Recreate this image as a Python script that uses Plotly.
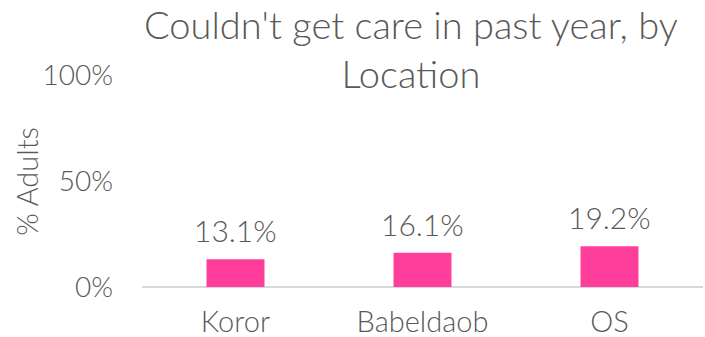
import plotly.graph_objects as go

locations = ["Koror", "Babeldaob", "OS"]
pct_couldnt_get_care = [13.1, 16.1, 19.2]
y_ticks = [0, 50, 100]
y_tick_labels = ["0%", "50%", "100%"]

GRAY = "#595959"
FONT = "Lato"
W = 300

fig = go.Figure(
    go.Bar(
        x=locations,
        y=pct_couldnt_get_care,
        marker=dict(color="#ff3d9a", line=dict(width=0)),
        width=0.31,
        hoverinfo="skip",
    )
)

for loc, v in zip(locations, pct_couldnt_get_care):
    fig.add_annotation(
        x=loc, y=v, text=f"{v:.1f}%", showarrow=False,
        yanchor="bottom", yshift=9,
        font=dict(family=FONT, size=30, color=GRAY, weight=W),
    )

# Chart title, centred over the plotting area
fig.add_annotation(
    text="Couldn't get care in past year, by<br>Location",
    xref="paper", yref="paper", x=0.48, y=1.125,
    xanchor="center", yanchor="middle", showarrow=False,
    font=dict(family=FONT, size=38, color=GRAY, weight=W),
)

# Vertical axis title
fig.add_annotation(
    text="% Adults", textangle=-90,
    xref="paper", yref="paper", x=-0.207, y=0.5,
    xanchor="center", yanchor="middle", showarrow=False,
    font=dict(family=FONT, size=29, color=GRAY, weight=W),
)

fig.update_layout(
    width=705, height=337,
    margin=dict(l=142, r=2, t=75, b=50, autoexpand=False),
    paper_bgcolor="white", plot_bgcolor="white",
    showlegend=False,
    font=dict(family=FONT, color=GRAY),
)

fig.update_xaxes(
    automargin=False,
    showgrid=False, showline=False, zeroline=False,
    ticks="", ticklabelstandoff=15,
    tickfont=dict(family=FONT, size=29, color=GRAY, weight=W),
)
fig.update_yaxes(
    automargin=False,
    range=[0, 100], tickvals=y_ticks, ticktext=y_tick_labels,
    showgrid=False, zeroline=True, zerolinecolor="#d9d9d9", zerolinewidth=1.5,
    showline=False, ticks="", ticklabelstandoff=28,
    tickfont=dict(family=FONT, size=28, color=GRAY, weight=W),
)

fig.write_html("out.html")
